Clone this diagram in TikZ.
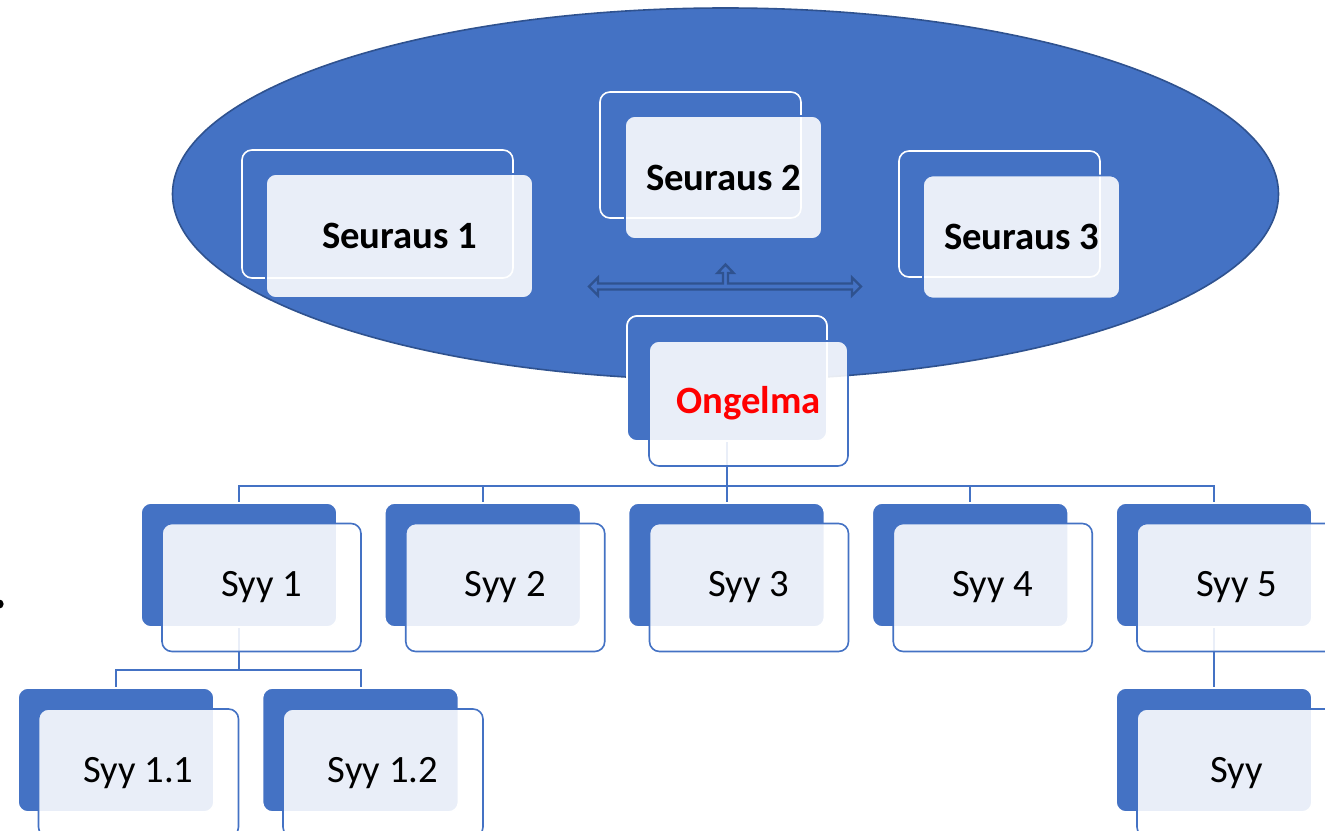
\documentclass[tikz,border=0pt]{standalone}
\usepackage{fontspec}
\setmainfont{Carlito}
\usetikzlibrary{arrows.meta,calc}
\definecolor{mblue}{HTML}{4472C4}
\definecolor{dblue}{HTML}{2F528F}
\tikzset{
  backbox/.style 2 args={rectangle, rounded corners=7.5pt, fill=mblue, draw=white, line width=1.2pt,
     minimum width={#1*0.75pt}, minimum height={#2*0.75pt}, inner sep=0pt},
  frontbox/.style 2 args={rectangle, rounded corners=7.5pt, fill=white, fill opacity=0.885, text opacity=1,
     draw=mblue, draw opacity=1, line width=1.2pt, minimum width={#1*0.75pt}, minimum height={#2*0.75pt}, inner sep=0pt,
     font=\fontsize{29}{35}\selectfont},
  conn/.style={draw=mblue, line width=1.5pt},
  hollowarrow/.style={draw=dblue, fill=mblue, line width=1.8pt, line join=miter},
}
\begin{document}
\begin{tikzpicture}[x=0.75pt,y=-0.75pt]
\useasboundingbox (0,0) rectangle (1325,831);
\clip (0,0) rectangle (1325,831);
\fill[white] (0,0) rectangle (1325,831);
% ellipse
\draw[fill=mblue, draw=dblue, line width=1.2pt] (725.5,194) ellipse [x radius=414.75pt, y radius=139.5pt];
% consequences: back boxes
\node[backbox={271}{128}, fill=none] (c1b) at (377.5,214) {};
\node[backbox={201}{126}, fill=none] (c2b) at (700.5,155) {};
\node[backbox={201}{126}, fill=none] (c3b) at (999.5,214) {};
% hollow arrows (left-right-up)
\draw[hollowarrow] (598,283.5) -- (598,277.5) -- (589,286.5) -- (598,295.5) -- (598,289.5)
  -- (852,289.5) -- (852,295.5) -- (861,286.5) -- (852,277.5) -- (852,283.5)
  -- (728,283.5) -- (728,273) -- (733.5,273) -- (725.5,264.5) -- (717.5,273) -- (723,273)
  -- (723,283.5) -- cycle;
% problem back box
\node[backbox={200}{125}] (ob) at (727,378.5) {};
% cause back boxes
\foreach \i/\x in {1/239,2/482.75,3/726.5,4/970.25,5/1214}{
  \node[backbox={196}{124}] (s\i b) at (\x,565) {};
}
\node[backbox={196}{124}] (s11b) at (116,750) {};
\node[backbox={196}{124}] (s12b) at (360.5,750) {};
\node[backbox={196}{124}] (s6b) at (1214,750) {};
% connectors
\foreach \i in {1,...,5}{
  \draw[conn] (ob.south) -- ++(0,44) -| (s\i b.north);
}
\draw[conn] (s1b.south) -- ++(0,42) -| (s11b.north);
\draw[conn] (s1b.south) -- ++(0,42) -| (s12b.north);
\draw[conn] (s5b.south) -- (s6b.north);
% redraw back boxes over connector ends
\foreach \i/\x in {1/239,2/482.75,3/726.5,4/970.25,5/1214}{
  \node[backbox={196}{124}] at (\x,565) {};
}
\node[backbox={200}{125}] at (727,378.5) {};
% front boxes
\node[frontbox={267}{124}, font=\fontsize{29}{35}\selectfont\bfseries] (c1) at (399.5,236) {Seuraus 1};
\node[frontbox={197}{123}, font=\fontsize{29}{35}\selectfont\bfseries] (c2) at (723.5,177.5) {Seuraus 2};
\node[frontbox={197}{123}, font=\fontsize{29}{35}\selectfont\bfseries] (c3) at (1021.5,237) {Seuraus 3};
\node[frontbox={199}{125}, font=\fontsize{29}{35}\selectfont\bfseries, text=red] (o) at (748.5,403.5) {Ongelma};
\foreach \i/\x/\t in {1/261.5/Syy 1,2/505.25/Syy 2,3/749/Syy 3,4/992.75/Syy 4,5/1236.5/Syy 5}{
  \node[frontbox={199}{128}] (s\i) at (\x,587.5) {\t};
}
\node[frontbox={200}{128}] (s11) at (138.5,773) {Syy 1.1};
\node[frontbox={200}{128}] (s12) at (383,773) {Syy 1.2};
\node[frontbox={199}{128}] (s6) at (1236.5,773) {Syy};
% stray dot
\node[circle, fill=black, inner sep=0pt, minimum size=7pt] (dot) at (-1,604) {};
\end{tikzpicture}
\end{document}
